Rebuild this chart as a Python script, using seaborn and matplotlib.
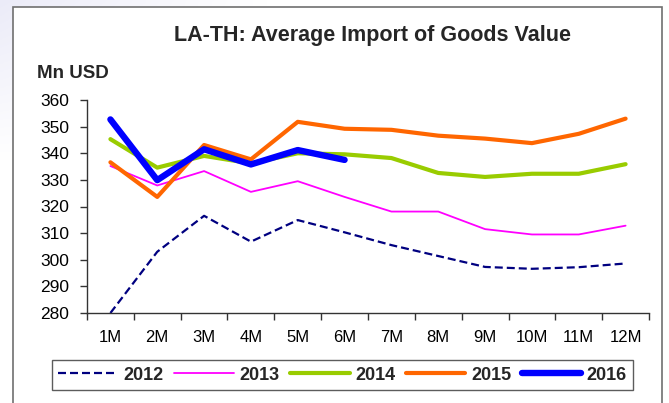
import numpy as np
import pandas as pd
import matplotlib
matplotlib.use("Agg")
import matplotlib.pyplot as plt
from matplotlib.patches import Rectangle
from matplotlib.lines import Line2D
import seaborn as sns

# Monthly average import values (Mn USD)
months = ["1M", "2M", "3M", "4M", "5M", "6M", "7M", "8M", "9M", "10M", "11M", "12M"]
v2012 = [280.0, 303.0, 316.5, 306.8, 314.9, 310.3, 305.5, 301.4, 297.3, 296.6, 297.2, 298.6]
v2013 = [335.2, 327.9, 333.3, 325.5, 329.5, 323.6, 318.1, 318.1, 311.5, 309.5, 309.5, 312.8]
v2014 = [345.3, 334.6, 339.0, 336.2, 340.0, 339.6, 338.2, 332.6, 331.1, 332.3, 332.3, 335.9]
v2015 = [336.6, 323.6, 343.1, 337.7, 351.8, 349.2, 348.8, 346.6, 345.5, 343.8, 347.3, 353.0]
v2016 = [352.7, 329.9, 341.5, 335.8, 341.2, 337.5]
years = ["2012", "2013", "2014", "2015", "2016"]
values = [v2012, v2013, v2014, v2015, v2016]

colors = {"2012": "#000080", "2013": "#FF00FF", "2014": "#99CC00",
          "2015": "#FF6600", "2016": "#0000FF"}
widths = {"2012": 1.6, "2013": 1.3, "2014": 3.0, "2015": 3.0, "2016": 4.6}
dashes = {"2012": (3.6, 1.8), "2013": "", "2014": "", "2015": "", "2016": ""}

sns.set_theme(style="white")
plt.rcParams["font.family"] = ["Liberation Sans", "DejaVu Sans"]

fig = plt.figure(figsize=(6.69, 4.03), dpi=100)
fig.patch.set_facecolor("white")

# faint slide background in the top-left corner
grad = np.linspace(1, 0, 200)[None, :] * np.linspace(1, 0, 120)[:, None]
bg = fig.add_axes([0, 0.6, 0.4, 0.4], zorder=-5)
bg.imshow(grad, cmap=matplotlib.colors.LinearSegmentedColormap.from_list(
    "bgc", ["#FFFFFF", "#EBEBF8"]), aspect="auto", vmin=0, vmax=1)
bg.axis("off")

# chart frame
fig.patches.append(Rectangle((13 / 669, -0.05), (662 - 13) / 669, (403 - 7) / 403 + 0.05,
                             transform=fig.transFigure, fill=True, facecolor="white",
                             edgecolor="#707070", lw=1.2, zorder=-1))

ax = fig.add_axes([87 / 669, 1 - 313 / 403, (649 - 87) / 669, (313 - 100) / 403])
ax.set_facecolor("none")

handles = []
for yr, vals in zip(years, values):
    df = pd.DataFrame({"pos": np.arange(len(vals)), "value": vals})
    sns.lineplot(data=df, x="pos", y="value", ax=ax, color=colors[yr],
                 lw=widths[yr], solid_capstyle="round", solid_joinstyle="round",
                 dashes=False)
    line = ax.lines[-1]
    if dashes[yr]:
        line.set_dashes(dashes[yr])
    handles.append(Line2D([], [], color=colors[yr], lw=widths[yr],
                          solid_capstyle="round",
                          dashes=dashes[yr] if dashes[yr] else (None, None),
                          label=yr))

ax.set_xlim(-0.5, 11.5)
ax.set_ylim(280, 360)
ax.set_yticks(np.arange(280, 361, 10))
ax.set_xticks(np.arange(-0.5, 12, 1))
ax.set_xticklabels([])
ax.set_xticks(np.arange(12), minor=True)
ax.set_xticklabels(months, minor=True)
ax.tick_params(axis="x", which="major", direction="out", length=5, width=1, color="#333333")
ax.tick_params(axis="x", which="minor", length=0, pad=12, labelsize=12, colors="black")
ax.tick_params(axis="y", direction="out", length=5, width=1, color="#333333",
               pad=8, labelsize=12.5, labelcolor="black")
ax.tick_params(left=True, bottom=True)
ax.xaxis.set_tick_params(which="major", bottom=True)
ax.set_xlabel("")
ax.set_ylabel("")
for s in ["top", "right"]:
    ax.spines[s].set_visible(False)
for s in ["left", "bottom"]:
    ax.spines[s].set_color("#333333")
    ax.spines[s].set_linewidth(1)

fig.text(372 / 669, 1 - 35 / 403, "LA-TH: Average Import of Goods Value",
         ha="center", va="center", fontsize=15.5, fontweight="bold")
fig.text(37 / 669, 1 - 73 / 403, "Mn USD", ha="left", va="center",
         fontsize=13.5, fontweight="bold")

leg = fig.legend(handles=handles, loc="center", ncol=5,
                 bbox_to_anchor=(342.5 / 669, 1 - 375 / 403),
                 frameon=True, fancybox=False, shadow=False,
                 prop={"weight": "bold", "size": 13},
                 handlelength=3.3, handletextpad=0.3, columnspacing=0.6,
                 borderpad=0.35, borderaxespad=0)
leg.get_frame().set_edgecolor("#333333")
leg.get_frame().set_linewidth(1)

fig.savefig("out.png", dpi=100)
